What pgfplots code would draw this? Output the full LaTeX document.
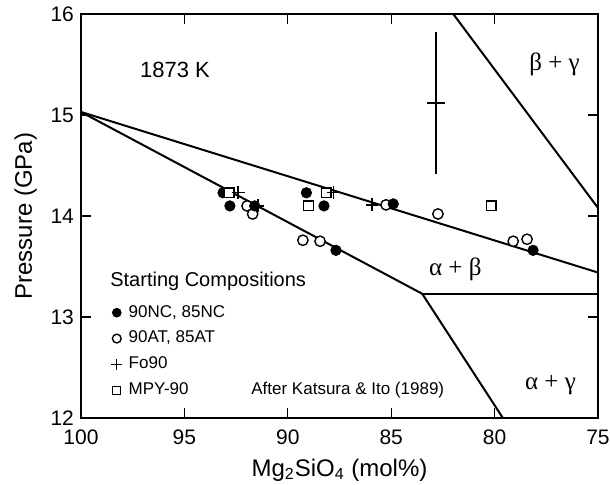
\documentclass[border=0pt]{standalone}
\usepackage{pgfplots}
\pgfplotsset{compat=1.18}
\usepackage{fontspec}
\setmainfont{Liberation Sans}
\newfontfamily\serifgr{Liberation Serif}

\begin{document}
\begin{tikzpicture}
\useasboundingbox (-40.5pt,-33.5pt) rectangle (264.5pt,209pt);
\begin{axis}[
  scale only axis, width=258.5pt, height=202pt,
  x dir=reverse, xmin=75, xmax=100, ymin=12, ymax=16,
  xtick={75,80,85,90,95,100}, ytick={12,13,14,15,16},
  tick align=inside, major tick length=5pt,
  tick style={line width=0.6pt, black},
  axis line style={line width=0.8pt},
  ticklabel style={font=\fontsize{10.5}{12}\selectfont},
  xticklabel style={yshift=-2.5pt},
  /pgf/number format/assume math mode=true,
  xlabel={Mg\textsubscript{2}SiO\textsubscript{4} (mol\%)},
  ylabel={Pressure (GPa)},
  label style={font=\fontsize{12}{14}\selectfont},
  legend style={at={(axis cs:98.72,13.15)}, anchor=north west, draw=none, fill=none,
    inner sep=0pt, row sep=2.5pt, font=\fontsize{8.5}{10}\selectfont,
    nodes={inner sep=1.5pt}},
  legend cell align=left,
  legend image code/.code={\draw[#1] plot coordinates {(0.15cm,0cm)};\path (0cm,0cm) (0.3cm,0cm);},
]
% phase boundaries
\addplot[black, line width=1pt, forget plot] coordinates {(100,15.03) (75,13.44)};
\addplot[black, line width=1pt, forget plot] coordinates {(100,15.03) (83.5,13.23) (79.6,12)};
\addplot[black, line width=1pt, forget plot] coordinates {(83.5,13.23) (75,13.23)};
\addplot[black, line width=1pt, forget plot] coordinates {(82.0,16) (75,14.08)};
% error bar
\addplot[black, mark=none, forget plot,
  error bars/.cd, x dir=both, x explicit, y dir=both, y explicit, error mark=none,
  error bar style={line width=0.7pt, black}]
  coordinates {(82.83,15.12) +- (0.42,0.70)};

% data
\addplot[only marks, black, mark=*, mark size=2.6pt, mark options={fill=white, line width=0.7pt}, forget plot]
  coordinates {(91.97,14.10) (91.7,14.02) (89.27,13.76) (88.44,13.75) (85.25,14.11) (82.74,14.02) (79.1,13.75) (78.43,13.77)};
\addplot[only marks, black, mark=*, mark size=2.6pt, mark options={fill=black}, forget plot]
  coordinates {(93.13,14.23) (92.8,14.10) (91.6,14.10) (89.1,14.23) (88.25,14.10) (87.67,13.66) (84.9,14.12) (78.14,13.66)};
\addplot[only marks, black, mark=square*, mark size=2.4pt, mark options={fill=white, line width=0.7pt}, forget plot]
  coordinates {(92.84,14.23) (89.0,14.10) (88.15,14.23) (80.17,14.10)};
\addplot[only marks, black, mark=+, mark size=3.2pt, mark options={line width=0.7pt}, forget plot]
  coordinates {(92.4,14.23) (91.45,14.10) (87.8,14.23) (85.93,14.11)};

% legend images
\addlegendimage{black, mark=*, mark size=2.2pt, mark options={fill=black}}
\addlegendentry{90NC, 85NC}
\addlegendimage{black, mark=*, mark size=2.2pt, mark options={fill=white, line width=0.7pt}}
\addlegendentry{90AT, 85AT}
\addlegendimage{black, mark=+, mark size=2.8pt, mark options={line width=0.7pt}}
\addlegendentry{Fo90}
\addlegendimage{black, mark=square*, mark size=2pt, mark options={fill=white, line width=0.7pt}}
\addlegendentry{MPY-90}

% texts
\node[font=\fontsize{11}{13}\selectfont] at (axis cs:95.45,15.45) {1873 K};
\node[font={\serifgr\fontsize{12.5}{14}\selectfont}] at (axis cs:77.1,15.5) {β + γ};
\node[font={\serifgr\fontsize{12.5}{14}\selectfont}] at (axis cs:81.9,13.47) {α + β};
\node[font={\serifgr\fontsize{12.5}{14}\selectfont}] at (axis cs:77.3,12.33) {α + γ};
\node[font=\fontsize{8.5}{10}\selectfont] at (axis cs:87.1,12.28) {After Katsura \& Ito (1989)};
\node[font=\fontsize{10}{12}\selectfont, anchor=west, inner sep=0pt] at (axis cs:98.6,13.35) {Starting Compositions};
\end{axis}
\end{tikzpicture}
\end{document}
